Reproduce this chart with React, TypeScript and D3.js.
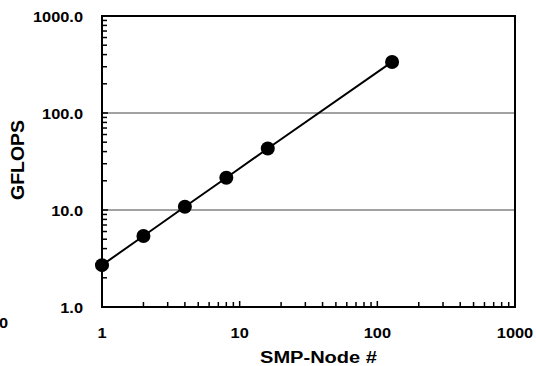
import * as d3 from 'd3';

// series
const nodes = [1, 2, 4, 8, 16, 128];
const gflops = [2.7, 5.4, 10.8, 21.5, 43, 336];

const xTickLabels = ['1', '10', '100', '1000'];
const yTickLabels = ['1.0', '10.0', '100.0', '1000.0'];

const width = 536,
	height = 366;
const plot = { left: 102, right: 515, top: 16, bottom: 307 };
const font = 'Arial, "Liberation Sans", sans-serif';
const stretch = 1.17; // the labels are a bit wider than plain Arial

export default function App() {
	const x = d3.scaleLog().domain([1, 1000]).range([plot.left, plot.right]);
	const y = d3.scaleLog().domain([1, 1000]).range([plot.bottom, plot.top]);

	const line = d3
		.line<number>()
		.x((_, i) => x(nodes[i]))
		.y((d) => y(d));

	// minor ticks 2..9 for each decade
	const minor: number[] = [];
	for (const dec of [1, 10, 100]) {
		for (let k = 2; k <= 9; k++) minor.push(dec * k);
	}

	return (
		<svg
			width={width}
			height={height}
			style={{ position: 'absolute', left: 0, top: 0, background: 'white' }}
			fontFamily={font}
			fontWeight="bold"
		>
			{/* gridlines */}
			{[10, 100].map((v) => (
				<line
					key={v}
					x1={plot.left}
					x2={plot.right}
					y1={y(v)}
					y2={y(v)}
					stroke="#444"
					strokeWidth={1}
				/>
			))}

			{/* y minor ticks */}
			{minor.map((v) => (
				<line key={'ym' + v} x1={plot.left} x2={plot.left + 5} y1={y(v)} y2={y(v)} stroke="black" strokeWidth={1.5} />
			))}
			{/* x minor ticks */}
			{minor.map((v) => (
				<line key={'xm' + v} x1={x(v)} x2={x(v)} y1={plot.bottom} y2={plot.bottom - 5} stroke="black" strokeWidth={1.5} />
			))}
			{/* major ticks */}
			{[1, 10, 100, 1000].map((v) => (
				<g key={'maj' + v}>
					<line x1={plot.left} x2={plot.left + 6} y1={y(v)} y2={y(v)} stroke="black" strokeWidth={1.5} />
					<line x1={x(v)} x2={x(v)} y1={plot.bottom} y2={plot.bottom - 6} stroke="black" strokeWidth={1.5} />
				</g>
			))}

			{/* frame */}
			<rect
				x={plot.left}
				y={plot.top}
				width={plot.right - plot.left}
				height={plot.bottom - plot.top}
				fill="none"
				stroke="black"
				strokeWidth={2}
			/>

			{/* series */}
			<path d={line(gflops)!} fill="none" stroke="black" strokeWidth={2} />
			{gflops.map((v, i) => (
				<circle key={i} cx={x(nodes[i])} cy={y(v)} r={7} fill="black" />
			))}

			{/* y tick labels */}
			{yTickLabels.map((t) => (
				<text
					key={t}
					transform={`translate(83, ${y(+t) + 1}) scale(${stretch}, 1)`}
					textAnchor="end"
					dominantBaseline="central"
					fontSize={14}
				>
					{t}
				</text>
			))}
			{/* x tick labels */}
			{xTickLabels.map((t) => (
				<text
					key={t}
					transform={`translate(${x(+t)}, 333) scale(${stretch}, 1)`}
					textAnchor="middle"
					dominantBaseline="central"
					fontSize={14}
				>
					{t}
				</text>
			))}

			{/* stray label cut by the left edge, as in the original */}
			<text
				transform={`translate(8, 323) scale(${stretch}, 1)`}
				textAnchor="end"
				dominantBaseline="central"
				fontSize={14}
			>
				0
			</text>

			{/* axis titles */}
			<text
				transform={`translate(18, 160) rotate(-90) scale(1.08, 1)`}
				textAnchor="middle"
				dominantBaseline="central"
				fontSize={18}
			>
				GFLOPS
			</text>
			<text
				transform={`translate(${(plot.left + plot.right) / 2 + 10}, 363) scale(1.18, 1)`}
				textAnchor="middle"
				fontSize={17}
			>
				SMP-Node #
			</text>
		</svg>
	);
}
